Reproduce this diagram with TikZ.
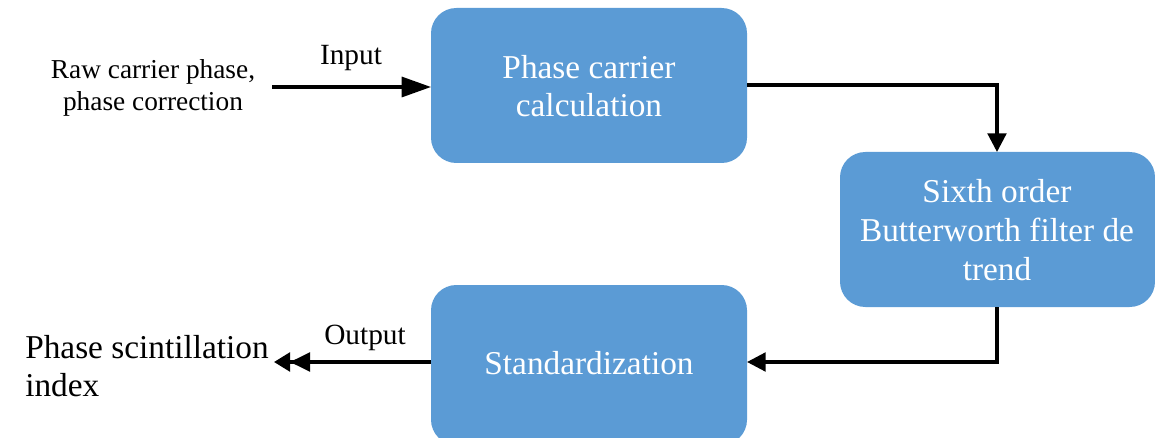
\documentclass[tikz,border=0pt]{standalone}
\usepackage{fontspec}
\setmainfont{Liberation Serif}
\usetikzlibrary{arrows.meta}
\definecolor{boxblue}{HTML}{5B9BD5}
\tikzset{
  procbox/.style={fill=boxblue, draw=none, rounded corners=19pt, text=white, align=center,
    font=\fontsize{25}{29}\selectfont, inner sep=0pt},
  conn/.style={line width=2.4pt, draw=black},
  lbl/.style={font=\fontsize{22}{26}\selectfont, inner sep=0pt},
}
\begin{document}
\begin{tikzpicture}[x=0.75pt,y=-0.75pt]
\useasboundingbox (0,0) rectangle (1155,438);
% boxes
\path[procbox] (431,8) rectangle (747,163);
\path[procbox] (840,152) rectangle (1155,307);
\path[procbox] (431,285) rectangle (747,445);
\coordinate (b1w) at (431,87);
\coordinate (b1e) at (747,85);
\coordinate (b2n) at (997,152);
\coordinate (b2s) at (997,307);
\coordinate (b3e) at (747,362);
\coordinate (b3w) at (431,362);
\node[procbox, fill=none] (t1) at (589,86) {Phase carrier\\calculation};
\node[procbox, fill=none] (t2) at (997,230) {Sixth order\\Butterworth filter de\\trend};
\node[procbox, fill=none] (t3) at (589,363) {Standardization};
% input
\node[lbl, align=center, font=\fontsize{20.5}{23.5}\selectfont] (raw) at (153,88) {Raw carrier phase,\\phase correction};
\coordinate (inS) at (272,87);
\node[lbl] (inl) at (351,58) {Input};
\draw[conn, -{Triangle[length=22pt,width=15pt]}] (inS) -- (b1w);
% b1 -> b2
\draw[conn, -{Triangle[length=14pt,width=14pt]}] (b1e) -| (b2n);
% b2 -> b3
\draw[conn, -{Triangle[length=14pt,width=14pt]}] (b2s) |- (b3e);
% output
\coordinate (outE) at (282,362);
\draw[conn, -{Triangle[length=15pt,width=14pt]Triangle[length=12pt,width=14pt,sep=-6pt]}] (b3w) -- (outE);
\node[lbl] (outl) at (365,338) {Output};
\node[align=left, anchor=west, inner sep=0pt, font=\fontsize{25}{29}\selectfont] (psi) at (25,366) {Phase scintillation\\index};
\end{tikzpicture}
\end{document}
